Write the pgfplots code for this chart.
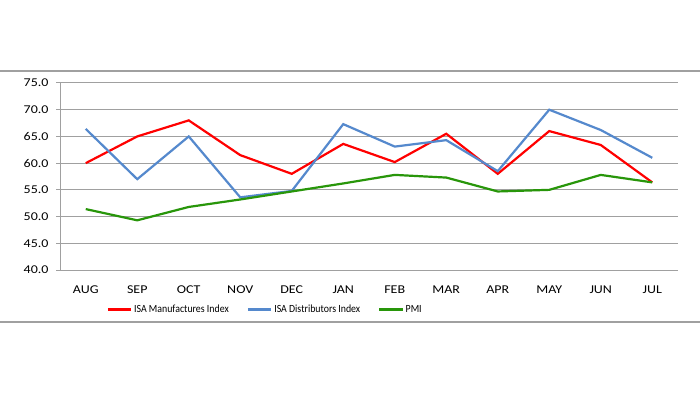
\documentclass[border=0pt]{standalone}
\usepackage{pgfplots}
\pgfplotsset{compat=1.18}
\usepackage{fontspec}
\setmainfont{Carlito}
\newfontfamily\tickfont[FakeStretch=1.17]{Carlito}
\newfontfamily\legfont[FakeStretch=0.9]{Carlito}
\definecolor{isared}{RGB}{255,0,0}
\definecolor{isablue}{RGB}{85,137,205}
\definecolor{isagreen}{RGB}{40,150,10}
\definecolor{gridgray}{RGB}{160,160,160}
\begin{document}
\begin{tikzpicture}[x=1bp,y=1bp]
\path[use as bounding box] (0,0) rectangle (700,394);
\fill[white] (0,0) rectangle (700,394);
\draw[gridgray,line width=1.5bp] (0,323) -- (700,323);
\draw[gridgray,line width=1.5bp] (0,72) -- (700,72);
\begin{axis}[
  at={(60bp,124bp)}, anchor=south west,
  scale only axis, width=618bp, height=187bp,
  xmin=-0.5, xmax=11.5, ymin=40, ymax=75,
  xtick={0,...,11},
  xticklabels={AUG,SEP,OCT,NOV,DEC,JAN,FEB,MAR,APR,MAY,JUN,JUL},
  extra x ticks={-0.5,0.5,1.5,2.5,3.5,4.5,5.5,6.5,7.5,8.5,9.5,10.5,11.5},
  extra x tick labels={},
  extra x tick style={major tick length=5bp, tick style={gridgray,line width=1bp}, tick align=outside, grid=none},
  xtick style={draw=none},
  ytick={40,45,...,75},
  yticklabel={\pgfmathprintnumber[fixed,fixed zerofill,precision=1]{\tick}},
  /pgf/number format/assume math mode=true,
  ymajorgrids, major grid style={gridgray,line width=1bp},
  axis x line*=bottom, axis y line*=left,
  axis line style={gridgray,line width=1bp},
  ytick style={gridgray,line width=1bp},
  tick align=outside, major tick length=4bp,
  ticklabel style={font=\tickfont\fontsize{12}{14}\selectfont, text=black},
  xticklabel style={yshift=-8bp},
  yticklabel style={xshift=-4bp},
  clip=false,
  legend style={draw=none, fill=none, at={(0.332,-0.165)}, anchor=north,
    legend columns=3, font=\legfont\fontsize{11}{12}\selectfont,
    /tikz/every even column/.append style={column sep=16bp}},
  legend image code/.code={\draw[#1,line width=2.2bp] (0cm,0cm) -- (0.82cm,0cm);},
]
\addplot[isared, line width=2.2bp] coordinates {
(0,60.0) (1,65.0) (2,68.0) (3,61.5) (4,58.0) (5,63.6) (6,60.2) (7,65.5) (8,58.0) (9,66.0) (10,63.4) (11,56.4)};
\addlegendentry{ISA Manufactures Index}
\addplot[isablue, line width=2.2bp] coordinates {
(0,66.4) (1,57.0) (2,65.0) (3,53.6) (4,54.8) (5,67.3) (6,63.1) (7,64.3) (8,58.5) (9,70.0) (10,66.2) (11,61.0)};
\addlegendentry{ISA Distributors Index}
\addplot[isagreen, line width=2.2bp] coordinates {
(0,51.4) (1,49.3) (2,51.8) (3,53.2) (4,54.7) (5,56.2) (6,57.8) (7,57.3) (8,54.7) (9,55.0) (10,57.8) (11,56.4)};
\addlegendentry{PMI}
\end{axis}
\end{tikzpicture}
\end{document}
